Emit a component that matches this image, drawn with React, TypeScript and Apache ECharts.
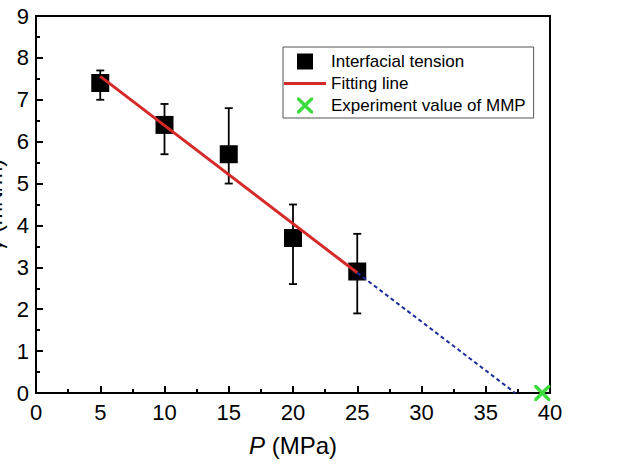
import React, { useEffect, useRef } from "react";
import * as echarts from "echarts";

const pressures = [5, 10, 15, 20, 25];
const tension = [7.4, 6.4, 5.7, 3.7, 2.9];
const errLow = [7.0, 5.7, 5.0, 2.6, 1.9];
const errHigh = [7.7, 6.9, 6.8, 4.5, 3.8];
const fitLine = [
  [5, 7.56],
  [25, 2.87],
];
const extrapolation = [
  [25, 2.87],
  [37.3, 0],
];
const mmpPoint = [[39.4, 0]];
const xTicks = { min: 0, max: 40, interval: 5 };
const yTicks = { min: 0, max: 9, interval: 1 };

const FONT = "'Liberation Sans', Arial, Helvetica, sans-serif";
const CROSS =
  "path://M0,0 L3,0 L10,7 L17,0 L20,0 L20,3 L13,10 L20,17 L20,20 L17,20 L10,13 L3,20 L0,20 L0,17 L7,10 L0,3 Z";
const SQUARE = "path://M0,0 L10,0 L10,10 L0,10 Z";
const BAR = "path://M0,0 L42,0 L42,3 L0,3 Z";

export default function App() {
  const ref = useRef<HTMLDivElement>(null);
  useEffect(() => {
    if (!ref.current) return;
    const chart = echarts.init(ref.current, null, { renderer: "svg" });
    const errData = pressures.map((p, i) => [p, errLow[i], errHigh[i]]);
    chart.setOption({
      animation: false,
      backgroundColor: "#fff",
      textStyle: { fontFamily: FONT },
      grid: {
        left: 36,
        right: 90,
        top: 16,
        bottom: 72,
        show: true,
        borderColor: "#000",
        borderWidth: 2,
        containLabel: false,
        outerBoundsMode: "none",
      },
      legend: {
        orient: "vertical",
        left: 283,
        top: 47,
        padding: [6, 8, 4, 1],
        borderColor: "#555",
        borderWidth: 1,
        itemWidth: 42,
        itemHeight: 16,
        itemGap: 5,
        textStyle: { fontSize: 17, color: "#000", fontFamily: FONT },
        data: [
          { name: "Interfacial tension", icon: SQUARE },
          { name: "Fitting line", icon: BAR },
          { name: "Experiment value of MMP", icon: CROSS },
        ],
      },
      xAxis: {
        type: "value",
        min: xTicks.min,
        max: xTicks.max,
        interval: xTicks.interval,
        name: "{i|P} (MPa)",
        nameLocation: "middle",
        nameGap: 40,
        nameTextStyle: {
          fontSize: 24,
          color: "#000",
          fontFamily: FONT,
          rich: { i: { fontStyle: "italic", fontSize: 24, fontFamily: FONT, color: "#000" } },
        },
        axisLine: { lineStyle: { color: "#000", width: 2 } },
        axisTick: { inside: true, length: 7, lineStyle: { color: "#000", width: 2 } },
        minorTick: { show: true, splitNumber: 2, length: 4, lineStyle: { color: "#000", width: 2 } },
        axisLabel: { fontSize: 22, color: "#000", margin: 8, fontFamily: FONT },
        splitLine: { show: false },
      },
      yAxis: {
        type: "value",
        min: yTicks.min,
        max: yTicks.max,
        interval: yTicks.interval,
        name: "{g|γ} (mN/m)",
        nameLocation: "middle",
        nameRotate: 90,
        nameGap: 28,
        nameTextStyle: {
          fontSize: 22,
          color: "#000",
          fontFamily: FONT,
          rich: { g: { fontStyle: "italic", fontSize: 22, fontFamily: FONT, color: "#000" } },
        },
        axisLine: { lineStyle: { color: "#000", width: 2 } },
        axisTick: { inside: true, length: 7, lineStyle: { color: "#000", width: 2 } },
        minorTick: { show: true, splitNumber: 2, length: 4, lineStyle: { color: "#000", width: 2 } },
        axisLabel: { fontSize: 22, color: "#000", margin: 7, fontFamily: FONT },
        splitLine: { show: false },
      },
      series: [
        {
          type: "custom",
          name: "errors",
          z: 1,
          data: errData,
          renderItem: (params: any, api: any) => {
            const x = api.value(0);
            const lo = api.coord([x, api.value(1)]);
            const hi = api.coord([x, api.value(2)]);
            const cap = 4;
            const style = { stroke: "#000", lineWidth: 1.8 };
            return {
              type: "group",
              children: [
                { type: "line", shape: { x1: lo[0], y1: lo[1], x2: hi[0], y2: hi[1] }, style },
                { type: "line", shape: { x1: lo[0] - cap, y1: lo[1], x2: lo[0] + cap, y2: lo[1] }, style },
                { type: "line", shape: { x1: hi[0] - cap, y1: hi[1], x2: hi[0] + cap, y2: hi[1] }, style },
              ],
            };
          },
        },
        {
          type: "scatter",
          name: "Interfacial tension",
          z: 3,
          symbol: "rect",
          symbolSize: 18,
          itemStyle: { color: "#000", opacity: 1 },
          data: pressures.map((p, i) => [p, tension[i]]),
        },
        {
          type: "line",
          name: "Fitting line",
          z: 4,
          symbol: "none",
          lineStyle: { color: "#d42a2a", width: 3 },
          itemStyle: { color: "#d42a2a" },
          data: fitLine,
        },
        {
          type: "line",
          name: "extrapolation",
          z: 4,
          symbol: "none",
          lineStyle: { color: "#1c2c9c", width: 2, type: [4, 3] },
          data: extrapolation,
        },
        {
          type: "scatter",
          name: "Experiment value of MMP",
          z: 5,
          symbol: CROSS,
          symbolSize: 16,
          clip: false,
          itemStyle: { color: "#3ddc3d", opacity: 1 },
          data: mmpPoint,
        },
      ],
    });
    return () => chart.dispose();
  }, []);
  return (
    <div
      ref={ref}
      style={{ position: "absolute", left: 0, top: 0, width: 640, height: 465 }}
    />
  );
}
